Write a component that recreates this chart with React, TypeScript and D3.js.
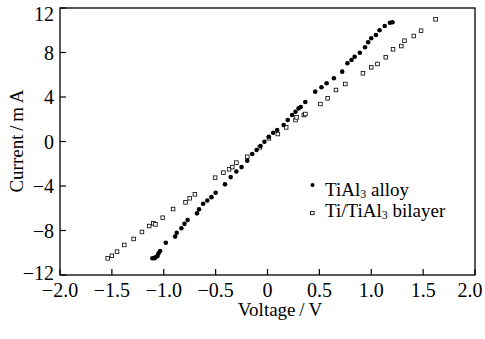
import React from "react";
import * as d3 from "d3";

const alloyV = [-1.11,-1.09,-1.08,-1.06,-1.05,-1.035,-0.98,-0.89,-0.875,-0.83,-0.80,-0.77,-0.68,-0.66,-0.62,-0.58,-0.54,-0.50,-0.41,-0.355,-0.30,-0.25,-0.195,-0.147,-0.105,-0.067,-0.03,0.013,0.055,0.093,0.156,0.195,0.237,0.27,0.30,0.32,0.364,0.46,0.52,0.57,0.64,0.72,0.77,0.81,0.84,0.89,0.94,0.97,1.00,1.045,1.08,1.13,1.18,1.205];
const alloyI = [-10.5,-10.5,-10.4,-10.3,-10.05,-9.85,-9.1,-8.55,-8.2,-7.8,-7.4,-7.05,-6.46,-6.1,-5.6,-5.3,-5.0,-4.6,-3.85,-3.2,-2.7,-2.3,-1.73,-1.12,-0.76,-0.40,-0.02,0.43,0.79,1.03,1.48,1.93,2.38,2.68,2.98,3.1,3.55,4.48,4.87,5.23,5.68,6.28,7.03,7.33,7.62,7.98,8.47,8.92,9.28,9.57,10.0,10.38,10.68,10.72];

const bilayerV = [-1.54,-1.50,-1.45,-1.38,-1.29,-1.21,-1.14,-1.10,-1.08,-1.01,-0.91,-0.79,-0.75,-0.70,-0.505,-0.425,-0.37,-0.34,-0.30,-0.195,-0.074,0.013,0.10,0.18,0.27,0.28,0.35,0.365,0.51,0.58,0.66,0.75,0.92,1.00,1.06,1.14,1.21,1.29,1.32,1.41,1.48,1.62];
const bilayerI = [-10.5,-10.27,-9.9,-9.3,-8.76,-8.13,-7.6,-7.35,-7.45,-6.85,-6.07,-5.47,-5.1,-4.75,-3.25,-2.8,-2.5,-2.3,-1.9,-1.37,-0.52,0.29,0.67,1.27,1.93,2.17,2.38,2.47,3.37,3.88,4.63,5.17,6.13,6.67,6.97,7.57,8.29,8.58,9.06,9.48,9.96,10.98];

const xTicks = [-2.0,-1.5,-1.0,-0.5,0,0.5,1.0,1.5,2.0];
const yTicks = [-12,-8,-4,0,4,8,12];

export default function App() {
  const W = 485, H = 339;
  const x = d3.scaleLinear().domain([-2, 2]).range([60, 475]);
  const y = d3.scaleLinear().domain([-12, 12]).range([275, 8]);
  const font = "'Liberation Serif', 'Times New Roman', serif";
  const fmtX = (v: number) => (v === 0 ? "0" : d3.format(".1f")(v).replace("-", "\u2212"));
  const fmtY = (v: number) => String(v).replace("-", "\u2212");
  return (
    <svg width={W} height={H} style={{ position: "absolute", left: 0, top: 0, background: "#fff" }} fontFamily={font}>
      <rect x={x(-2)} y={y(12)} width={x(2) - x(-2)} height={y(-12) - y(12)} fill="none" stroke="#000" strokeWidth={1.3} />
      {xTicks.map((t) => (
        <g key={"x" + t}>
          <line x1={x(t)} x2={x(t)} y1={y(-12)} y2={y(-12) - 6} stroke="#000" strokeWidth={1.2} />
          <text x={Math.min(x(t), 470)} y={297} textAnchor="middle" fontSize={20}>{fmtX(t)}</text>
        </g>
      ))}
      {yTicks.map((t) => (
        <g key={"y" + t}>
          <line x1={x(-2)} x2={x(-2) + 6} y1={y(t)} y2={y(t)} stroke="#000" strokeWidth={1.2} />
          <text x={54} y={Math.min(Math.max(y(t) + 7, 21), 280)} textAnchor="end" fontSize={20}>{fmtY(t)}</text>
        </g>
      ))}
      <text x={280} y={316} textAnchor="middle" fontSize={19}>Voltage{"\u2009/\u2009"}V</text>
      <text transform={`translate(23,141) rotate(-90)`} textAnchor="middle" fontSize={19}>Current{"\u2009/\u2009"}m A</text>
      {bilayerV.map((v, i) => (
        <rect key={"b" + i} x={x(v) - 1.8} y={y(bilayerI[i]) - 1.8} width={3.6} height={3.6} fill="#fff" stroke="#000" strokeWidth={0.8} />
      ))}
      {alloyV.map((v, i) => (
        <circle key={"a" + i} cx={x(v)} cy={y(alloyI[i])} r={2.3} fill="#000" />
      ))}
      <circle cx={312.5} cy={185} r={2} fill="#000" />
      <text x={325} y={196} fontSize={19}>TiAl<tspan fontSize={12} dy={2}>3</tspan><tspan dy={-2}> alloy</tspan></text>
      <rect x={310.5} y={211.5} width={3.6} height={3.2} fill="#fff" stroke="#000" strokeWidth={0.8} />
      <text x={325} y={217} fontSize={19}>Ti/TiAl<tspan fontSize={12} dy={2}>3</tspan><tspan dy={-2}> bilayer</tspan></text>
    </svg>
  );
}
